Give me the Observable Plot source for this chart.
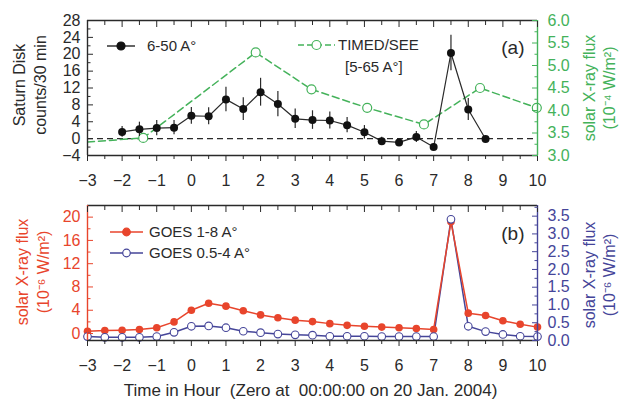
<!DOCTYPE html>
<html><head><meta charset="utf-8">
<script src="https://cdn.jsdelivr.net/npm/d3@7"></script>
<script src="https://cdn.jsdelivr.net/npm/@observablehq/plot@0.6"></script>
<style>
body{margin:0;background:#fff;}
#chart{position:relative;width:622px;height:403px;font-family:"Liberation Sans",Arial,sans-serif;}
#chart svg{display:block;overflow:visible;}
</style></head><body><div id="chart"></div>
<script>
// ---- Panel (a): Saturn disk counts (6-50 A°) with error bars
const satHours  = [-2,-1.5,-1,-0.5,0,0.5,1,1.5,2,2.5,3,3.5,4,4.5,5,5.5,6,6.5,7,7.5,8,8.5];
const satCounts = [1.6,2.2,2.5,2.6,5.4,5.3,9.3,7.0,11.0,8.2,4.7,4.4,4.3,3.2,1.5,-0.6,-0.9,0.4,-2.0,20.3,6.9,-0.1];
const satErr    = [1.3,1.7,1.8,1.7,2.0,2.0,2.9,2.7,3.3,3.0,2.3,2.2,2.0,1.8,1.6,0.9,0.7,1.3,0.8,4.2,2.6,0.6];
// ---- Panel (a): TIMED/SEE flux [5-65 A°] (10^-4 W/m^2)
const timedHours = [-3.0,-1.39,1.86,3.47,5.08,6.72,8.34,9.98];
const timedFlux  = [3.30,3.39,5.29,4.47,4.06,3.69,4.50,4.06];
// ---- Panel (b): GOES fluxes (10^-6 W/m^2)
const goesHours = [-3,-2.5,-2,-1.5,-1,-0.5,0,0.5,1,1.5,2,2.5,3,3.5,4,4.5,5,5.5,6,6.5,7,7.5,8,8.5,9,9.5,10];
const goesLong  = [0.4,0.5,0.57,0.7,1.0,2.0,4.0,5.2,4.7,3.9,3.2,2.7,2.3,2.05,1.7,1.4,1.25,1.1,1.0,0.85,0.7,19.2,3.5,3.1,2.2,1.6,1.1];
const goesShort = [0.11,0.09,0.09,0.09,0.11,0.23,0.40,0.41,0.36,0.26,0.22,0.18,0.16,0.15,0.12,0.12,0.12,0.11,0.11,0.11,0.11,3.41,0.40,0.25,0.17,0.12,0.11];
// ---- Axes
const xDomain = [-3,10];
const xTicks = [-3,-2,-1,0,1,2,3,4,5,6,7,8,9,10];
const xMinor = [-2.5,-1.5,-0.5,0.5,1.5,2.5,3.5,4.5,5.5,6.5,7.5,8.5,9.5];
const countsDomain = [-4,28];
const countsTicks = [-4,0,4,8,12,16,20,24,28];
const countsMinor = [-2,2,6,10,14,18,22,26];
const timedDomain = [3,6];
const timedTicks = [3.0,3.5,4.0,4.5,5.0,5.5,6.0];
const timedMinor = [3.25,3.75,4.25,4.75,5.25,5.75];
const longDomain = [-1.2,22];
const longTicks = [0,4,8,12,16,20];
const longMinor = [2,6,10,14,18];
const shortDomain = [0,3.8];
const shortTicks = [0.0,0.5,1.0,1.5,2.0,2.5,3.0,3.5];
const shortMinor = [0.25,0.75,1.25,1.75,2.25,2.75,3.25,3.75];

const ink = "#2a2a2a", green = "#44b25a", red = "#e8452c", blue = "#454599";
const font = '"Liberation Sans", Arial, sans-serif';
const W = 622, ML = 87, MR = 85;

const satData = satHours.map((h,i)=>({h, v:satCounts[i], e:satErr[i]}));
const g2y = d3.scaleLinear(timedDomain, countsDomain);
const timedData = timedHours.map((h,i)=>({h, v:g2y(timedFlux[i]), first:i===0}));
const b2y = d3.scaleLinear(shortDomain, longDomain);
const goesData = goesHours.map((h,i)=>({h, r:goesLong[i], b:b2y(goesShort[i])}));

function xAxes() {
  return [
    Plot.axisX(xTicks, {anchor:"bottom", tickSize:6, tickPadding:13, label:null, fontSize:16, color:ink}),
    Plot.axisX(xMinor, {anchor:"bottom", tickSize:4, label:null, tickFormat:()=>"", color:ink}),
    Plot.axisX(xTicks, {anchor:"top", tickSize:-6, label:null, tickFormat:()=>"", color:ink}),
    Plot.axisX(xMinor, {anchor:"top", tickSize:-4, label:null, tickFormat:()=>"", color:ink})
  ];
}

function legendMark(items) {
  return () => {
    const g = d3.create("svg:g").attr("font-family", font).attr("text-anchor", "start");
    for (const it of items) {
      if (it.line) {
        g.append("line").attr("x1", it.x).attr("x2", it.x + it.len).attr("y1", it.y).attr("y2", it.y)
          .attr("stroke", it.color).attr("stroke-width", 1.3).attr("stroke-dasharray", it.dash || null);
        g.append("circle").attr("cx", it.x + it.len/2).attr("cy", it.y).attr("r", it.r)
          .attr("fill", it.open ? "white" : it.color).attr("stroke", it.color).attr("stroke-width", 1.2);
      }
      if (it.text) {
        g.append("text").attr("x", it.tx).attr("y", it.ty ?? it.y).attr("dy", "0.35em")
          .attr("font-size", 15).attr("fill", ink).text(it.text);
      }
    }
    return g.node();
  };
}

const topPanel = Plot.plot({
  width: W, height: 190, marginLeft: ML, marginRight: MR, marginTop: 20, marginBottom: 35,
  style: {fontFamily: font, fontSize: "16px", background: "transparent", overflow: "visible"},
  x: {domain: xDomain, axis: null},
  y: {domain: countsDomain, axis: null},
  marks: [
    Plot.ruleY([0], {stroke: ink, strokeDasharray: "6,4", strokeWidth: 1.2}),
    Plot.line(timedData, {x:"h", y:"v", stroke: green, strokeWidth: 1.5, strokeDasharray: "7,4", clip: true}),
    Plot.dot(timedData, {filter: d=>!d.first, x:"h", y:"v", r:4.5, stroke: green, fill: "white", strokeWidth: 1.2}),
    Plot.ruleX(satData, {x:"h", y1: d=>d.v-d.e, y2: d=>d.v+d.e, stroke: ink, strokeWidth: 1.2}),
    Plot.line(satData, {x:"h", y:"v", stroke: ink, strokeWidth: 1.2}),
    Plot.dot(satData, {x:"h", y:"v", r:4, fill: "#111"}),
    // frame
    Plot.ruleY(countsDomain, {stroke: ink, strokeWidth: 1.4}),
    Plot.ruleX([xDomain[0]], {stroke: ink, strokeWidth: 1.4}),
    Plot.ruleX([xDomain[1]], {stroke: green, strokeWidth: 1.4}),
    ...xAxes(),
    Plot.axisY(countsTicks, {anchor:"left", tickSize:-6, tickPadding:13, label:null, fontSize:16, color:ink}),
    Plot.axisY(countsMinor, {anchor:"left", tickSize:-3.5, label:null, tickFormat:()=>"", color:ink}),
    Plot.axisY(timedTicks.map(g2y), {anchor:"right", tickSize:-6, tickPadding:16, label:null, fontSize:16, color:green, tickFormat: d=>g2y.invert(d).toFixed(1)}),
    Plot.axisY(timedMinor.map(g2y), {anchor:"right", tickSize:-3.5, label:null, tickFormat:()=>"", color:green}),
    Plot.text(["Saturn Disk\ncounts/30 min"], {frameAnchor:"left", dx:-59, dy:-3, rotate:-90, lineHeight:1.3, fontSize:16, fill:ink, lineAnchor:"middle", textAnchor:"middle"}),
    Plot.text(["solar X-ray flux\n(10\u207B\u2074 W/m\u00B2)"], {frameAnchor:"right", dx:61, dy:0, rotate:-90, lineHeight:1.25, fontSize:16, fill:green, lineAnchor:"middle", textAnchor:"middle"}),
    Plot.text(["(a)"], {frameAnchor:"top-right", dx:-13, dy:27, fontSize:19, fill:ink, textAnchor:"end", lineAnchor:"middle"}),
    legendMark([
      {line:true, x:107, len:28, y:46, r:4, color:"#111", text:"6-50 A\u00B0", tx:147},
      {line:true, x:298, len:37, y:45, r:4.5, open:true, color:green, dash:"6,3", text:"TIMED/SEE", tx:338},
      {text:"[5-65 A\u00B0]", tx:345, y:67}
    ])
  ]
});

const bottomPanel = Plot.plot({
  width: W, height: 213, marginLeft: ML, marginRight: MR, marginTop: 15, marginBottom: 63,
  style: {fontFamily: font, fontSize: "16px", background: "transparent", overflow: "visible"},
  x: {domain: xDomain, axis: null},
  y: {domain: longDomain, axis: null},
  marks: [
    Plot.line(goesData, {x:"h", y:"b", stroke: blue, strokeWidth: 1.5}),
    Plot.line(goesData, {x:"h", y:"r", stroke: red, strokeWidth: 1.5}),
    Plot.dot(goesData, {x:"h", y:"r", r:3.8, fill: red}),
    Plot.dot(goesData, {x:"h", y:"b", r:3.8, fill: "white", stroke: blue, strokeWidth: 1.1}),
    Plot.ruleY(longDomain, {stroke: ink, strokeWidth: 1.4}),
    Plot.ruleX([xDomain[0]], {stroke: red, strokeWidth: 1.4}),
    Plot.ruleX([xDomain[1]], {stroke: blue, strokeWidth: 1.4}),
    ...xAxes(),
    Plot.axisY(longTicks, {anchor:"left", tickSize:-6, tickPadding:13, label:null, fontSize:16, color:red}),
    Plot.axisY(longMinor, {anchor:"left", tickSize:-3.5, label:null, tickFormat:()=>"", color:red}),
    Plot.axisY(shortTicks.map(b2y), {anchor:"right", tickSize:-6, tickPadding:16, label:null, fontSize:16, color:blue, tickFormat: d=>b2y.invert(d).toFixed(1)}),
    Plot.axisY(shortMinor.map(b2y), {anchor:"right", tickSize:-3.5, label:null, tickFormat:()=>"", color:blue}),
    Plot.text(["solar X-ray flux\n(10\u207B\u2076 W/m\u00B2)"], {frameAnchor:"left", dx:-56, dy:-1, rotate:-90, lineHeight:1.3, fontSize:16, fill:red, lineAnchor:"middle", textAnchor:"middle"}),
    Plot.text(["solar X-ray flux\n(10\u207B\u2076 W/m\u00B2)"], {frameAnchor:"right", dx:61, dy:2, rotate:-90, lineHeight:1.25, fontSize:16, fill:blue, lineAnchor:"middle", textAnchor:"middle"}),
    Plot.text(["(b)"], {frameAnchor:"top-right", dx:-13, dy:28, fontSize:19, fill:ink, textAnchor:"end", lineAnchor:"middle"}),
    Plot.text(["Time in Hour\u00A0\u00A0(Zero at\u00A0\u00A000:00:00 on 20 Jan. 2004)"], {frameAnchor:"bottom", dx:-2, dy:50, fontSize:17, fill:ink, lineAnchor:"middle", textAnchor:"middle"}),
    legendMark([
      {line:true, x:110, len:33, y:42, r:3.8, color:red, text:"GOES 1-8 A\u00B0", tx:149},
      {line:true, x:110, len:33, y:63, r:3.8, open:true, color:blue, text:"GOES 0.5-4 A\u00B0", tx:149}
    ])
  ]
});

const chart = document.getElementById("chart");
chart.append(topPanel, bottomPanel);
</script></body></html>
